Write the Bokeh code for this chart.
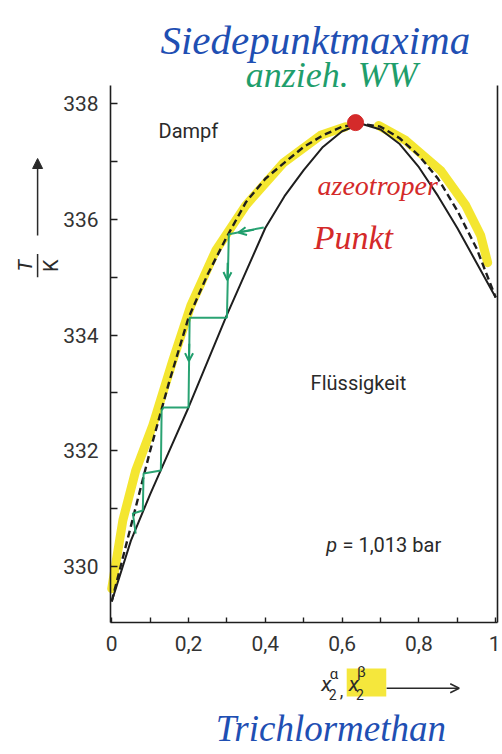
from math import pi
from bokeh.plotting import figure
from bokeh.models import Range1d, Label, Arrow, OpenHead, NormalHead, LinearAxis, FixedTicker
from bokeh.embed import file_html
from bokeh.resources import INLINE

# ---- data ----
x_liq = [0.0, 0.05, 0.1, 0.15, 0.2, 0.25, 0.3, 0.35, 0.4, 0.45, 0.5, 0.55, 0.6, 0.65,
         0.7, 0.75, 0.8, 0.85, 0.9, 0.95, 1.0]
T_liq = [329.4, 330.45, 331.25, 332.0, 332.75, 333.55, 334.35, 335.1, 335.85, 336.4, 336.85,
         337.25, 337.52, 337.65, 337.55, 337.3, 336.9, 336.4, 335.85, 335.25, 334.65]

x_vap = [0.0, 0.05, 0.1, 0.15, 0.2, 0.25, 0.3, 0.35, 0.4, 0.45, 0.5, 0.55, 0.6, 0.65,
         0.7, 0.75, 0.8, 0.85, 0.9, 0.95, 1.0]
T_vap = [329.4, 330.7, 332.0, 333.2, 334.3, 335.05, 335.7, 336.3, 336.7, 336.98, 337.25,
         337.45, 337.6, 337.65, 337.6, 337.4, 337.1, 336.7, 336.15, 335.5, 334.65]

# yellow marker highlight along the dew curve
x_hl_left = [0.0, 0.029, 0.0625, 0.107, 0.159, 0.206, 0.271, 0.349, 0.448, 0.544, 0.609]
T_hl_left = [329.62, 330.8, 331.66, 332.44, 333.56, 334.51, 335.46, 336.24, 336.98, 337.45, 337.6]
x_hl_right = [0.695, 0.766, 0.857, 0.922, 0.961, 0.979]
T_hl_right = [337.62, 337.36, 336.84, 336.24, 335.72, 335.25]

# green hand-drawn staircase
stair_x = [0.396, 0.305, 0.30, 0.203, 0.20, 0.135, 0.13, 0.128, 0.083, 0.081, 0.055, 0.0625]
stair_T = [335.86, 335.74, 334.30, 334.30, 332.75, 332.75, 332.70, 331.66, 331.61, 330.97, 330.92, 330.57]
garrow_x0 = [0.37, 0.302, 0.202]
garrow_T0 = [335.82, 335.25, 333.85]
garrow_x1 = [0.33, 0.301, 0.201]
garrow_T1 = [335.77, 334.95, 333.55]

azeo_x = [0.635]
azeo_T = [337.67]

y_ticks = [330, 332, 334, 336, 338]
y_minor = [331, 333, 335, 337]
x_ticks = [0.0, 0.2, 0.4, 0.6, 0.8, 1.0]
x_minor = [0.1, 0.3, 0.5, 0.7, 0.9]
x_tick_labels = ["0", "0,2", "0,4", "0,6", "0,8", "1"]

x_lo, x_hi = -0.003, 1.005      # diagram box in x
T_lo, T_hi = 329.036, 338.311   # diagram box in T

PRINT_FONT = "Roboto"
HAND_FONT = "Liberation Serif"
BLACK = "#1e1e1e"
INK = "#2a2a2a"
GREEN = "#1f9e6c"
BLUE = "#1f4fb3"
RED = "#d42a2a"
YELLOW = "#f3e31a"

# the frame spans the whole canvas; the diagram box is drawn by fixed-location axes
p = figure(frame_width=500, frame_height=748,
           x_range=Range1d(-0.2896, 1.0125), y_range=Range1d(326.86, 339.779),
           output_backend="svg", toolbar_location=None,
           min_border=0)
p.grid.visible = False
p.outline_line_color = None
p.background_fill_color = "white"
p.border_fill_color = "white"

p.yaxis.ticker = FixedTicker(ticks=y_ticks, minor_ticks=y_minor)
p.xaxis.ticker = FixedTicker(ticks=x_ticks, minor_ticks=x_minor)
p.xaxis.major_label_overrides = {t: l for t, l in zip(x_ticks, x_tick_labels)}
p.yaxis.fixed_location = x_lo
p.xaxis.fixed_location = T_lo
p.yaxis.bounds = (T_lo, T_hi)
p.xaxis.bounds = (x_lo, x_hi)
for ax in (p.xaxis[0], p.yaxis[0]):
    ax.axis_line_color = BLACK
    ax.axis_line_width = 1.6
    ax.major_tick_line_color = BLACK
    ax.minor_tick_line_color = BLACK
    ax.major_tick_line_width = 1.4
    ax.minor_tick_line_width = 1.4
    ax.major_tick_out = 0
    ax.minor_tick_out = 0
    ax.major_label_text_font = PRINT_FONT
    ax.major_label_text_font_size = "21px"
    ax.major_label_text_color = "#333333"
p.yaxis.major_tick_in = 7
p.yaxis.minor_tick_in = 7
p.yaxis.major_label_standoff = 12
p.xaxis.major_tick_in = 5
p.xaxis.minor_tick_in = 5
p.xaxis.major_label_standoff = 13

right = LinearAxis(ticker=FixedTicker(ticks=[], minor_ticks=[]),
                   major_tick_line_color=None, minor_tick_line_color=None,
                   axis_line_color=BLACK, axis_line_width=1.6,
                   fixed_location=x_hi, bounds=(T_lo, T_hi))
p.add_layout(right, "right")

# highlights
p.line(x_hl_left, T_hl_left, line_width=9, color=YELLOW, alpha=0.9, line_cap="round", line_join="round")
p.line(x_hl_right, T_hl_right, line_width=9, color=YELLOW, alpha=0.9, line_cap="round", line_join="round")

# curves
p.line(x_liq, T_liq, line_width=2, color=BLACK)
p.line(x_vap, T_vap, line_width=2.4, color=BLACK, line_dash="7 4")

# green staircase
p.line(stair_x, stair_T, line_width=2, color=GREEN, alpha=0.95)
for xs, ts, xe, te in zip(garrow_x0, garrow_T0, garrow_x1, garrow_T1):
    p.add_layout(Arrow(x_start=xs, y_start=ts, x_end=xe, y_end=te, line_color=GREEN, line_width=2,
                       end=OpenHead(size=8, line_color=GREEN, line_width=2)))

# azeotropic point
p.scatter(azeo_x, azeo_T, size=16, color=RED)

def lab(x, y, text, font, size, color, style="normal", align="left", baseline="alphabetic", angle=0):
    p.add_layout(Label(x=x, y=y, text=text, text_font=font, text_font_size=size, text_color=color,
                       text_font_style=style, text_align=align, text_baseline=baseline, angle=angle))

# printed texts
lab(0.122, 337.53, "Dampf", PRINT_FONT, "20px", INK, baseline="middle")
lab(0.518, 333.18, "Flüssigkeit", PRINT_FONT, "20px", INK, baseline="middle")
lab(0.559, 330.37, "p", PRINT_FONT, "20px", INK, style="italic", baseline="middle")
lab(0.601, 330.37, "= 1,013 bar", PRINT_FONT, "20px", INK, baseline="middle")

# y axis label T/K with arrow
lab(-0.225, 335.2, "T", PRINT_FONT, "20px", INK, style="italic", align="center", baseline="middle", angle=pi / 2)
lab(-0.159, 335.2, "K", PRINT_FONT, "20px", INK, align="center", baseline="middle", angle=pi / 2)
p.add_layout(Arrow(x_start=-0.193, y_start=335.0, x_end=-0.193, y_end=335.4, line_color=INK,
                   line_width=1.5, end=None))
p.add_layout(Arrow(x_start=-0.193, y_start=335.72, x_end=-0.193, y_end=337.05, line_color=INK,
                   line_width=1.5, end=NormalHead(size=10, fill_color=INK, line_color=INK)))

# x axis label x2^alpha, x2^beta with arrow
p.add_layout(Arrow(x_start=0.612, y_start=328.0, x_end=0.715, y_end=328.0, line_color=YELLOW,
                   line_alpha=0.85, line_width=28, end=None, level="underlay"))
lab(0.546, 327.98, "x", PRINT_FONT, "21px", INK, style="italic")
lab(0.565, 327.79, "2", PRINT_FONT, "14px", INK)
lab(0.568, 328.15, "α", PRINT_FONT, "15px", INK)
lab(0.594, 327.86, ",", PRINT_FONT, "18px", INK)
lab(0.617, 327.98, "x", PRINT_FONT, "21px", INK, style="italic")
lab(0.636, 327.79, "2", PRINT_FONT, "14px", INK)
lab(0.639, 328.18, "β", PRINT_FONT, "15px", INK)
p.add_layout(Arrow(x_start=0.716, y_start=327.90, x_end=0.905, y_end=327.90, line_color=INK,
                   line_width=1.5, end=OpenHead(size=9, line_color=INK, line_width=1.5)))

# handwritten notes
lab(0.127, 339.10, "Siedepunktmaxima", HAND_FONT, "41px", BLUE, style="italic")
lab(0.349, 338.49, "anzieh. WW", HAND_FONT, "36px", GREEN, style="italic")
lab(0.536, 336.59, "azeotroper", HAND_FONT, "28px", RED, style="italic")
lab(0.526, 335.68, "Punkt", HAND_FONT, "34px", RED, style="italic")
lab(0.271, 327.20, "Trichlormethan", HAND_FONT, "37px", BLUE, style="italic")

open("out.html", "w").write(file_html(p, INLINE))
